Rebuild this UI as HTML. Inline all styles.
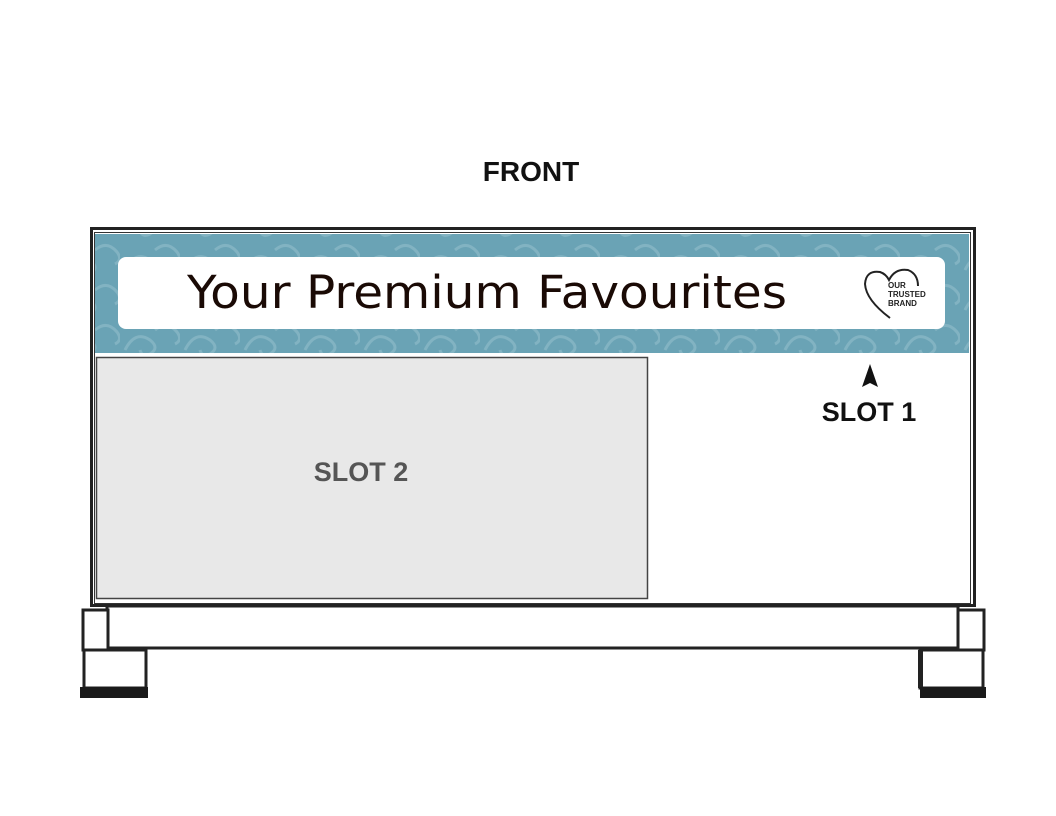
<!DOCTYPE html>
<html><head><style>
html,body{margin:0;padding:0;background:#fff;}
svg{display:block;}
text{font-family:"Liberation Sans",sans-serif;font-weight:bold;}
</style></head><body>
<svg width="1056" height="816" viewBox="0 0 1056 816" xmlns="http://www.w3.org/2000/svg">
<defs>
<pattern id="sw" width="60" height="40" patternUnits="userSpaceOnUse">
<rect width="60" height="40" fill="#6aa3b5"/>
<path d="M5 30 q10 -20 25 -10 q10 8 0 14 q-8 4 -10 -4" fill="none" stroke="#82b3c2" stroke-width="3"/>
<path d="M35 10 q12 -10 22 2 q6 8 -2 12" fill="none" stroke="#82b3c2" stroke-width="3"/>
</pattern>
</defs>
<text x="531" y="181" font-size="28" text-anchor="middle" fill="#111">FRONT</text>
<rect x="91.5" y="228.5" width="883" height="377" fill="#fff" stroke="#222" stroke-width="3"/>
<rect x="94.5" y="232.5" width="876" height="371" fill="none" stroke="#333" stroke-width="1"/>
<rect x="95" y="234" width="874" height="119" fill="url(#sw)"/>
<rect x="118" y="257" width="827" height="72" rx="8" fill="#fff"/>
<text x="187" y="308" font-size="45" style="font-weight:normal;font-family:'DejaVu Sans',sans-serif" textLength="600" lengthAdjust="spacingAndGlyphs" fill="#1a0a05">Your Premium Favourites</text>
<path d="M890 318 Q866 300 865 284 Q866 270 880 272 Q886 274 889 280 Q895 268 908 270 Q918 274 918 286" fill="none" stroke="#222" stroke-width="2"/>
<text x="888" y="288" font-size="8" fill="#222">OUR</text>
<text x="888" y="297" font-size="8" fill="#222">TRUSTED</text>
<text x="888" y="306" font-size="8" fill="#222">BRAND</text>
<rect x="96.5" y="357.5" width="551" height="241" fill="#e8e8e8" stroke="#444" stroke-width="1.5"/>
<text x="361" y="481" font-size="27" text-anchor="middle" fill="#555">SLOT 2</text>
<path d="M870 364 L862 387 L870 383 L878 387 Z" fill="#111"/>
<text x="869" y="421" font-size="27" text-anchor="middle" fill="#111">SLOT 1</text>
<rect x="107" y="606" width="851" height="42" fill="#fff" stroke="#222" stroke-width="3"/>
<rect x="83" y="610" width="25" height="40" fill="#fff" stroke="#222" stroke-width="3"/>
<rect x="84" y="650" width="62" height="38" fill="#fff" stroke="#222" stroke-width="3"/>
<rect x="80" y="687" width="68" height="11" fill="#1a1a1a"/>
<rect x="958" y="610" width="26" height="40" fill="#fff" stroke="#222" stroke-width="3"/>
<rect x="920" y="650" width="63" height="38" fill="#fff" stroke="#222" stroke-width="3"/>
<rect x="918" y="650" width="5" height="38" fill="#222"/>
<rect x="920" y="687" width="66" height="11" fill="#1a1a1a"/>
</svg>
</body></html>
